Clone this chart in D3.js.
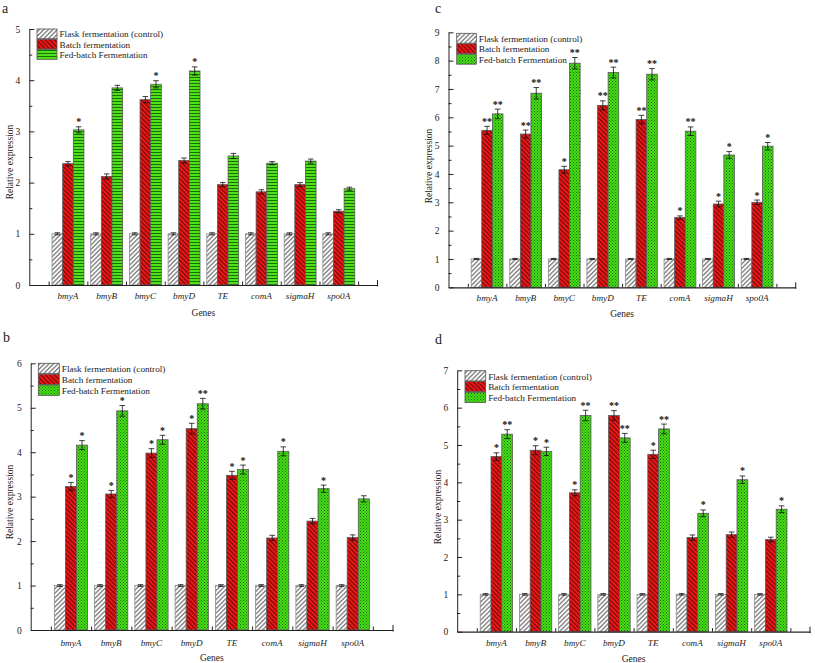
<!DOCTYPE html>
<html>
<head>
<meta charset="utf-8">
<script src="https://cdn.jsdelivr.net/npm/d3@7"></script>
<style>
  html, body { margin: 0; padding: 0; background: #fff; }
  svg text { font-family: "Liberation Serif", "Times New Roman", serif; fill: #222; }
</style>
</head>
<body>
<svg id="chart" width="815" height="663"></svg>
<script>
// ---------------- DATA ----------------
const genes = ["bmyA", "bmyB", "bmyC", "bmyD", "TE", "comA", "sigmaH", "spo0A"];
const seriesNames = ["Flask fermentation (control)", "Batch fermentation", "Fed-batch Fermentation"];
const controlValues = [1, 1, 1, 1, 1, 1, 1, 1];
const controlErr = [0.02, 0.02, 0.02, 0.02, 0.02, 0.02, 0.02, 0.02];

// panel a
const batchA = [2.37, 2.12, 3.62, 2.43, 1.96, 1.82, 1.96, 1.44];
const fedA = [3.03, 3.85, 3.92, 4.18, 2.52, 2.38, 2.42, 1.88];
const batchErrA = [0.04, 0.05, 0.06, 0.05, 0.04, 0.04, 0.04, 0.03];
const fedErrA = [0.06, 0.05, 0.07, 0.08, 0.05, 0.03, 0.04, 0.03];
const batchStarsA = ["", "", "", "", "", "", "", ""];
const fedStarsA = ["*", "", "*", "*", "", "", "", ""];
const yTicksA = [0, 1, 2, 3, 4, 5];

// panel b
const batchB = [3.23, 3.06, 3.98, 4.53, 3.48, 2.07, 2.45, 2.08];
const fedB = [4.16, 4.93, 4.28, 5.09, 3.61, 4.02, 3.18, 2.95];
const batchErrB = [0.09, 0.08, 0.1, 0.12, 0.09, 0.06, 0.06, 0.06];
const fedErrB = [0.1, 0.12, 0.1, 0.12, 0.1, 0.1, 0.08, 0.07];
const batchStarsB = ["*", "*", "*", "*", "*", "", "", ""];
const fedStarsB = ["*", "*", "*", "**", "*", "*", "*", ""];
const yTicksB = [0, 1, 2, 3, 4, 5, 6];

// panel c
const batchC = [5.54, 5.41, 4.15, 6.42, 5.92, 2.46, 2.94, 3.00];
const fedC = [6.12, 6.85, 7.91, 7.58, 7.52, 5.51, 4.67, 4.98];
const batchErrC = [0.14, 0.14, 0.12, 0.16, 0.15, 0.06, 0.1, 0.08];
const fedErrC = [0.17, 0.2, 0.2, 0.19, 0.2, 0.15, 0.12, 0.13];
const batchStarsC = ["**", "**", "*", "**", "**", "*", "*", "*"];
const fedStarsC = ["**", "**", "**", "**", "**", "**", "*", "*"];
const yTicksC = [0, 1, 2, 3, 4, 5, 6, 7, 8, 9];

// panel d
const batchD = [4.69, 4.86, 3.72, 5.79, 4.75, 2.52, 2.60, 2.47];
const fedD = [5.29, 4.83, 5.79, 5.19, 5.43, 3.17, 4.07, 3.28];
const batchErrD = [0.1, 0.12, 0.08, 0.13, 0.11, 0.07, 0.07, 0.06];
const fedErrD = [0.12, 0.11, 0.14, 0.12, 0.13, 0.09, 0.1, 0.09];
const batchStarsD = ["*", "*", "*", "**", "*", "", "", ""];
const fedStarsD = ["**", "*", "**", "**", "**", "*", "*", "*"];
const yTicksD = [0, 1, 2, 3, 4, 5, 6, 7];

// ---------------- LAYOUT ----------------
const panels = [
  { letter: "a", batch: batchA, fed: fedA, be: batchErrA, fe: fedErrA, bs: batchStarsA, fs: fedStarsA, ticks: yTicksA,
    x0: 29.3, x1: 377.5, y0: 285, y1: 29, fedPattern: "fedStripe",
    letterPos: [2, 13], legend: [37, 29, 20, 10.3], titleX: 10, titleY: 162, catY: 299, genesY: 316 },
  { letter: "c", batch: batchC, fed: fedC, be: batchErrC, fe: fedErrC, bs: batchStarsC, fs: fedStarsC, ticks: yTicksC,
    x0: 448.5, x1: 795.7, y0: 287.3, y1: 32.3, fedPattern: "fedCheck",
    letterPos: [435, 13], legend: [456.7, 33.3, 19.6, 10.5], titleX: 429, titleY: 166, catY: 301, genesY: 317 },
  { letter: "b", batch: batchB, fed: fedB, be: batchErrB, fe: fedErrB, bs: batchStarsB, fs: fedStarsB, ticks: yTicksB,
    x0: 30.7, x1: 393, y0: 630, y1: 363.3, fedPattern: "fedCheck",
    letterPos: [3, 342], legend: [38.3, 363.3, 21, 10.9], titleX: 10, titleY: 502, catY: 646, genesY: 661 },
  { letter: "d", batch: batchD, fed: fedD, be: batchErrD, fe: fedErrD, bs: batchStarsD, fs: fedStarsD, ticks: yTicksD,
    x0: 457.2, x1: 810, y0: 631.7, y1: 370.3, fedPattern: "fedCheck",
    letterPos: [435, 344], legend: [465, 370.7, 20.7, 10.8], titleX: 438, titleY: 507, catY: 646, genesY: 662 }
];

const svg = d3.select("#chart");
const defs = svg.append("defs");

// control hatch (/)
{
  const p = defs.append("pattern").attr("id", "ctrlHatch").attr("patternUnits", "userSpaceOnUse")
    .attr("width", 3.2).attr("height", 3.2).attr("patternTransform", "rotate(45)");
  p.append("rect").attr("width", 3.2).attr("height", 3.2).attr("fill", "#ffffff");
  p.append("rect").attr("width", 1.3).attr("height", 3.2).attr("fill", "#7a7a7a");
}
// batch hatch (\)
{
  const p = defs.append("pattern").attr("id", "batchHatch").attr("patternUnits", "userSpaceOnUse")
    .attr("width", 3.2).attr("height", 3.2).attr("patternTransform", "rotate(-45)");
  p.append("rect").attr("width", 3.2).attr("height", 3.2).attr("fill", "#f01616");
  p.append("rect").attr("width", 1.1).attr("height", 3.2).attr("fill", "#6a0a0a");
}
// fed stripes (panel a)
{
  const p = defs.append("pattern").attr("id", "fedStripe").attr("patternUnits", "userSpaceOnUse")
    .attr("width", 4).attr("height", 3);
  p.append("rect").attr("width", 4).attr("height", 3).attr("fill", "#4ee21a");
  p.append("rect").attr("y", 2).attr("width", 4).attr("height", 1).attr("fill", "#1d6e08");
}
// fed checker (panels b, c, d)
{
  const p = defs.append("pattern").attr("id", "fedCheck").attr("patternUnits", "userSpaceOnUse")
    .attr("width", 3).attr("height", 3);
  p.append("rect").attr("width", 3).attr("height", 3).attr("fill", "#44dd16");
  p.append("rect").attr("width", 1).attr("height", 1).attr("fill", "#1a6a06");
  p.append("rect").attr("x", 1.5).attr("y", 1.5).attr("width", 1).attr("height", 1).attr("fill", "#237a0a");
}

const barWidthUnits = 0.275;

panels.forEach(P => {
  const g = svg.append("g");
  const yMax = d3.max(P.ticks);
  const x = d3.scaleLinear().domain([0, 9]).range([P.x0, P.x1]);
  const y = d3.scaleLinear().domain([0, yMax]).range([P.y0, P.y1]);
  const bw = x(barWidthUnits) - x(0);

  const series = [
    { vals: controlValues, errs: controlErr, stars: null, fill: "url(#ctrlHatch)", stroke: "#8a8a8a" },
    { vals: P.batch, errs: P.be, stars: P.bs, fill: "url(#batchHatch)", stroke: "#5a5a5a" },
    { vals: P.fed, errs: P.fe, stars: P.fs, fill: "url(#" + P.fedPattern + ")", stroke: "#5a5a5a" }
  ];

  series.forEach((s, si) => {
    const off = (si - 1.5) * barWidthUnits;
    const gs = g.append("g");
    gs.selectAll("rect").data(s.vals).enter().append("rect")
      .attr("x", (d, i) => x(i + 1 + off))
      .attr("y", d => y(d))
      .attr("width", bw)
      .attr("height", d => y(0) - y(d))
      .attr("fill", s.fill)
      .attr("stroke", s.stroke)
      .attr("stroke-width", 0.8);

    // error bars
    const cx = i => x(i + 1 + off + barWidthUnits / 2);
    const eg = gs.append("g").attr("stroke", "#111").attr("stroke-width", 0.8);
    s.vals.forEach((v, i) => {
      const top = y(v + s.errs[i]), bot = y(v - s.errs[i]);
      eg.append("line").attr("x1", cx(i)).attr("x2", cx(i)).attr("y1", top).attr("y2", bot);
      eg.append("line").attr("x1", cx(i) - 2.8).attr("x2", cx(i) + 2.8).attr("y1", top).attr("y2", top);
      eg.append("line").attr("x1", cx(i) - 2.8).attr("x2", cx(i) + 2.8).attr("y1", bot).attr("y2", bot);
    });
    if (s.stars) {
      gs.selectAll("text.star").data(s.stars).enter().append("text")
        .attr("class", "star")
        .attr("x", (d, i) => cx(i))
        .attr("y", (d, i) => y(s.vals[i] + s.errs[i]) - 1.5)
        .attr("text-anchor", "middle")
        .style("font-size", "10px")
        .style("font-weight", "bold")
        .style("fill", "#111")
        .text(d => d);
    }
  });

  // y axis
  const yAxis = d3.axisLeft(y).tickValues(P.ticks).tickSize(-5).tickSizeOuter(0).tickPadding(9)
    .tickFormat(d3.format("d"));
  const ya = g.append("g").attr("transform", `translate(${P.x0},0)`).call(yAxis);
  ya.select(".domain").attr("stroke", "#222");
  ya.selectAll(".tick line").attr("stroke", "#222");
  ya.selectAll(".tick text").style("font-size", "9.5px").style("font-family", "Liberation Serif, serif").attr("fill", "#222");
  const minor = d3.range(0.5, yMax, 1);
  const yMinor = d3.axisLeft(y).tickValues(minor).tickSize(-3).tickFormat("");
  const ym = g.append("g").attr("transform", `translate(${P.x0},0)`).call(yMinor);
  ym.select(".domain").remove();
  ym.selectAll(".tick line").attr("stroke", "#222");

  // x axis
  const xTicks = d3.range(0.5, 9, 1);
  const xAxis = d3.axisBottom(x).tickValues(xTicks).tickSize(-3.5).tickSizeOuter(0).tickFormat("");
  const xa = g.append("g").attr("transform", `translate(0,${P.y0})`).call(xAxis);
  xa.select(".domain").attr("stroke", "#222").attr("stroke-width", 1.2);
  xa.selectAll(".tick line").attr("stroke", "#222");
  // end tick
  g.append("line").attr("x1", x(9)).attr("x2", x(9)).attr("y1", P.y0 - 5).attr("y2", P.y0 + 1.5)
    .attr("stroke", "#222");

  // category labels
  g.selectAll("text.cat").data(genes).enter().append("text")
    .attr("class", "cat")
    .attr("x", (d, i) => x(i + 1))
    .attr("y", P.catY)
    .attr("text-anchor", "middle")
    .style("font-size", "9.2px")
    .style("font-style", "italic")
    .text(d => d);

  // axis titles
  g.append("text").attr("x", (P.x0 + P.x1) / 2).attr("y", P.genesY)
    .attr("text-anchor", "middle").style("font-size", "9.5px").text("Genes");
  g.append("text")
    .attr("transform", `translate(${P.titleX + 3},${P.titleY}) rotate(-90)`)
    .attr("text-anchor", "middle").style("font-size", "9.5px").text("Relative expression");

  // panel letter
  g.append("text").attr("x", P.letterPos[0]).attr("y", P.letterPos[1])
    .style("font-size", "14px").text(P.letter);

  // legend
  const [lx, ly, sw, sh] = P.legend;
  series.forEach((s, si) => {
    g.append("rect").attr("x", lx).attr("y", ly + si * sh).attr("width", sw).attr("height", sh - 0.6)
      .attr("fill", s.fill).attr("stroke", "#555").attr("stroke-width", 0.8);
    g.append("text").attr("x", lx + sw + 2.5).attr("y", ly + si * sh + sh - 2)
      .style("font-size", "9.2px").text(seriesNames[si]);
  });
});
</script>
</body>
</html>
